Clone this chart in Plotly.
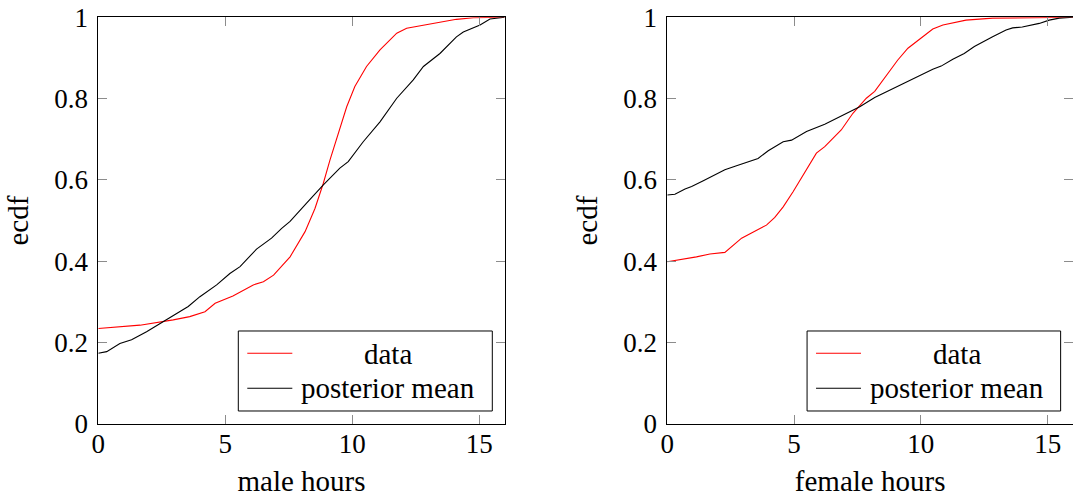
import plotly.graph_objects as go

# Male hours: empirical CDF of the data and the posterior-mean CDF
male_data_x = [0, 1.64, 2.95, 3.6, 4.2, 4.6, 5.3, 6.1, 6.5, 6.9, 7.55, 8.14, 8.53, 8.86,
               9.12, 9.45, 9.78, 10.1, 10.56, 11.09, 11.55, 11.75, 12.14, 12.8, 13.45,
               14.1, 14.76, 16]
male_data_y = [0.235, 0.243, 0.256, 0.264, 0.276, 0.297, 0.315, 0.342, 0.35, 0.366, 0.411,
               0.473, 0.530, 0.592, 0.649, 0.715, 0.780, 0.83, 0.879, 0.92, 0.948, 0.961,
               0.973, 0.981, 0.989, 0.995, 0.999, 1.0]
male_post_x = [0, 0.33, 0.85, 1.31, 1.9, 2.56, 3.08, 3.54, 4.0, 4.27, 4.66, 5.18, 5.58, 6.23,
               6.82, 7.22, 7.55, 8.2, 8.86, 9.51, 9.84, 10.43, 11.09, 11.75, 12.4, 12.8,
               13.45, 14.1, 14.37, 15.03, 15.42, 16]
male_post_y = [0.174, 0.178, 0.198, 0.207, 0.227, 0.252, 0.270, 0.289, 0.313, 0.325, 0.342,
               0.370, 0.387, 0.430, 0.457, 0.481, 0.498, 0.543, 0.588, 0.629, 0.645, 0.694,
               0.743, 0.801, 0.846, 0.879, 0.911, 0.952, 0.964, 0.981, 0.996, 1.0]

# Female hours
female_data_x = [0, 0.63, 1.15, 1.68, 2.27, 2.93, 3.39, 3.91, 4.24, 4.57, 4.96, 5.42, 5.88,
                 6.21, 6.54, 6.86, 7.32, 7.85, 8.18, 8.77, 9.09, 9.49, 10.0, 10.47, 10.87,
                 11.39, 11.78, 12.83, 16]
female_data_y = [0.399, 0.405, 0.411, 0.418, 0.422, 0.457, 0.473, 0.489, 0.508, 0.534, 0.571,
                 0.620, 0.666, 0.682, 0.704, 0.723, 0.764, 0.801, 0.818, 0.866, 0.895, 0.924,
                 0.948, 0.971, 0.981, 0.987, 0.993, 0.998, 1.0]
female_post_x = [0, 0.3, 0.7, 0.96, 1.42, 1.81, 2.27, 2.73, 3.25, 3.58, 3.98, 4.57, 4.9, 5.49,
                 6.21, 6.8, 7.26, 7.59, 8.18, 8.77, 9.09, 9.49, 9.95, 10.47, 10.8, 11.26,
                 11.71, 12.11, 12.83, 13.36, 13.62, 14.0, 14.67, 15.06, 15.46, 16]
female_post_y = [0.563, 0.565, 0.578, 0.584, 0.598, 0.611, 0.625, 0.635, 0.645, 0.653, 0.672,
                 0.694, 0.698, 0.719, 0.737, 0.756, 0.770, 0.780, 0.803, 0.821, 0.831, 0.844,
                 0.858, 0.872, 0.880, 0.897, 0.911, 0.928, 0.952, 0.969, 0.974, 0.976, 0.985,
                 0.993, 0.998, 1.0]

x_titles = ["male hours", "female hours"]
y_title = "ecdf"
series_names = ["data", "posterior mean"]
series_colors = ["#ff0000", "#000000"]
x_ticks = [0, 5, 10, 15]
y_ticks = [0, 0.2, 0.4, 0.6, 0.8, 1]
y_tick_text = ["0", "0.2", "0.4", "0.6", "0.8", "1"]

W, H = 1073, 497
SERIF = "'Liberation Serif', 'Times New Roman', serif"

fig = go.Figure()

panels = [
    ("x", "y", (male_data_x, male_data_y), (male_post_x, male_post_y)),
    ("x2", "y2", (female_data_x, female_data_y), (female_post_x, female_post_y)),
]
for xa, ya, d, p in panels:
    for (xs, ys), color in zip([d, p], series_colors):
        fig.add_trace(go.Scatter(x=xs, y=ys, mode="lines", xaxis=xa, yaxis=ya,
                                 line=dict(color=color, width=1.1),
                                 showlegend=False, hoverinfo="skip"))

y_dom = [(H - 424) / H, (H - 17.3) / H]
x_doms = [[98.3 / W, 504.7 / W], [667.3 / W, 1.0]]

axis_common = dict(
    showgrid=False, zeroline=False, showline=True, linecolor="black", linewidth=1,
    mirror="ticks", ticks="inside", ticklen=9, tickcolor="#8c8c8c", tickwidth=1,
    tickfont=dict(family=SERIF, size=27, color="black"), automargin=False,
)

layout = dict(
    width=W, height=H, margin=dict(l=0, r=0, t=0, b=0),
    paper_bgcolor="white", plot_bgcolor="white", showlegend=False,
)
for i, (xd, xt) in enumerate(zip(x_doms, x_titles)):
    sfx = "" if i == 0 else str(i + 1)
    layout["xaxis" + sfx] = dict(
        axis_common, domain=xd, range=[0, 16], tickvals=x_ticks,
        anchor="y" + sfx, ticklabelstandoff=-4,
        title=dict(text=xt, font=dict(family=SERIF, size=29, color="black"), standoff=14),
    )
    layout["yaxis" + sfx] = dict(
        axis_common, domain=y_dom, range=[0, 1], tickvals=y_ticks, ticktext=y_tick_text,
        anchor="x" + sfx, ticklabelstandoff=4,
        title=dict(text=y_title, font=dict(family=SERIF, size=29, color="black"), standoff=16),
    )
fig.update_layout(**layout)

# Legend drawn inside the lower-right corner of each panel
shapes, annotations = [], []
for sfx in ["", "2"]:
    xr, yr = "x" + sfx + " domain", "y" + sfx + " domain"
    shapes.append(dict(type="rect", xref=xr, yref=yr, x0=0.3445, x1=0.9695, y0=0.032, y1=0.2287,
                       line=dict(color="black", width=1), fillcolor="white", layer="above"))
    for name, color, ly, ty in zip(series_names, series_colors, [0.1738, 0.0878], [0.172, 0.0897]):
        shapes.append(dict(type="line", xref=xr, yref=yr, x0=0.3666, x1=0.4774, y0=ly, y1=ly,
                           line=dict(color=color, width=1.1), layer="above"))
        annotations.append(dict(text=name, xref=xr, yref=yr, x=0.7136, y=ty, xanchor="center",
                                yanchor="middle", showarrow=False,
                                font=dict(family=SERIF, size=29, color="black")))
fig.update_layout(shapes=shapes, annotations=annotations)

fig.write_html("out.html")
